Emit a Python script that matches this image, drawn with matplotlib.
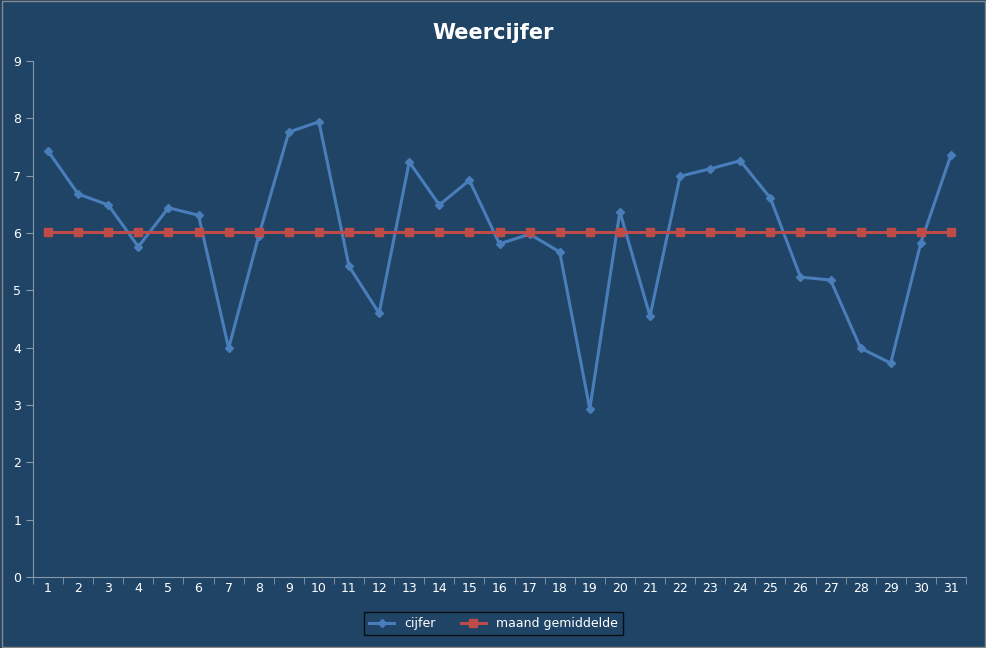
import numpy as np
import matplotlib.pyplot as plt

dagen = list(range(1, 32))
cijfer = [7.43, 6.68, 6.49, 5.76, 6.44, 6.31, 3.99, 5.95, 7.76, 7.94,
          5.42, 4.60, 7.24, 6.49, 6.92, 5.81, 5.98, 5.67, 2.93, 6.37,
          4.55, 6.99, 7.12, 7.26, 6.61, 5.23, 5.18, 3.99, 3.73, 5.83, 7.36]
gemiddelde = [6.02] * 31

bg = '#1f4466'
fig = plt.figure(figsize=(9.87, 6.48), dpi=100, facecolor=bg)
ax = fig.add_axes([33 / 987, 1 - 577 / 648, 933 / 987, 516 / 648], facecolor=bg)

ax.plot(dagen, cijfer, color='#4a7ebb', lw=2.2, marker='D', ms=4.5, label='cijfer')
ax.plot(dagen, gemiddelde, color='#be4b48', lw=2.2, marker='s', ms=6, label='maand gemiddelde')

ax.set_xlim(0.5, 31.5)
ax.set_ylim(0, 9)
ax.set_xticks(dagen)
ax.set_yticks(range(10))
ax.set_xticks(np.arange(0.5, 32, 1), minor=True)
ax.tick_params(axis='x', which='major', length=0, colors='white', labelsize=9)
ax.tick_params(axis='x', which='minor', length=5, color='#8899aa')
ax.tick_params(axis='y', length=5, color='#8899aa', labelcolor='white', labelsize=9)
for side in ['top', 'right']:
    ax.spines[side].set_visible(False)
for side in ['left', 'bottom']:
    ax.spines[side].set_color('#8899aa')

fig.suptitle('Weercijfer', color='white', fontsize=15, fontweight='bold', y=0.965)
leg = fig.legend(loc='lower center', bbox_to_anchor=(0.5, 0.01), ncol=2, fontsize=9,
                 facecolor=bg, edgecolor='black', labelcolor='white', fancybox=False)
fig.patches.append(plt.Rectangle((0.002, 0.002), 0.996, 0.996, transform=fig.transFigure,
                                 fill=False, edgecolor='#888888', lw=1))
fig.savefig('out.png', dpi=100, facecolor=bg)
